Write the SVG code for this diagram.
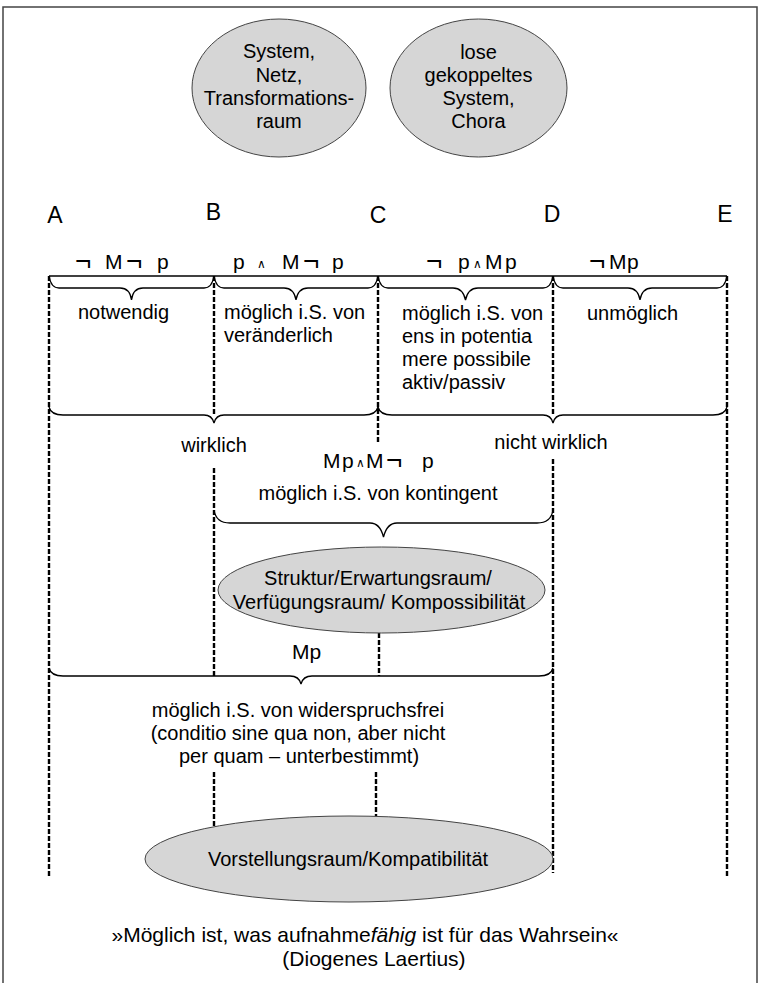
<svg xmlns="http://www.w3.org/2000/svg" width="759" height="983" viewBox="0 0 759 983">
<style>
text{font-family:"Liberation Sans",Arial,sans-serif;font-size:20px;fill:#000}
.lbl{font-size:23px}
.f{font-size:21px}
.neg{font-size:28px}
.and{font-size:12px;font-family:"DejaVu Sans",sans-serif}
.c{text-anchor:middle}
.q{font-size:21px}
.ell{fill:#d6d6d6;stroke:#444;stroke-width:1}
.dash{stroke:#000;stroke-width:2.4;stroke-dasharray:5 2;fill:none}
.brace{stroke:#000;stroke-width:1.3;fill:none}
</style>
<rect width="759" height="983" fill="#fff"/>
<path d="M3,983 V7 H757 V983" fill="none" stroke="#444" stroke-width="1.5"/>

<g id="node-system">
<ellipse class="ell" cx="279" cy="88" rx="87" ry="69"/>
<text class="c" x="279" y="58">System,</text>
<text class="c" x="279" y="82">Netz,</text>
<text class="c" x="279" y="105">Transformations-</text>
<text class="c" x="279" y="128">raum</text>
</g>
<g id="node-chora">
<ellipse class="ell" cx="478.5" cy="88" rx="88.5" ry="69"/>
<text class="c" x="478.5" y="59">lose</text>
<text class="c" x="478.5" y="82">gekoppeltes</text>
<text class="c" x="478.5" y="105">System,</text>
<text class="c" x="478.5" y="128">Chora</text>
</g>

<g id="labels">
<text class="lbl c" x="55" y="223">A</text>
<text class="lbl c" x="213.5" y="220">B</text>
<text class="lbl c" x="378" y="223">C</text>
<text class="lbl c" x="552" y="222">D</text>
<text class="lbl c" x="725" y="222">E</text>
</g>

<g id="connectors">
<line x1="49" y1="276" x2="727" y2="276" stroke="#000" stroke-width="1.3"/>
<line class="dash" x1="49" y1="276" x2="49" y2="877"/>
<line class="dash" x1="214" y1="276" x2="214" y2="416"/>
<line class="dash" x1="214" y1="468" x2="214" y2="676"/>
<line class="dash" x1="214" y1="772" x2="214" y2="826"/>
<line class="dash" x1="378" y1="276" x2="378" y2="442"/>
<line class="dash" x1="379" y1="633" x2="379" y2="676"/>
<line class="dash" x1="376" y1="772" x2="376" y2="816"/>
<line class="dash" x1="553" y1="276" x2="553" y2="416"/>
<line class="dash" x1="553" y1="459" x2="553" y2="873"/>
<line class="dash" x1="727" y1="276" x2="727" y2="877"/>
<!-- row 1 braces -->
<path class="brace" d="M49,276 Q51,288 59,288 L120,288 Q130,288 131.5,300 Q133,288 143,288 L204,288 Q212,288 214,276"/>
<path class="brace" d="M214,276 Q216,288 224,288 L284,288 Q294,288 296,300 Q298,288 308,288 L368,288 Q376,288 378,276"/>
<path class="brace" d="M378,276 Q380,288 388,288 L453,288 Q463,288 465.5,300 Q468,288 478,288 L543,288 Q551,288 553,276"/>
<path class="brace" d="M553,276 Q555,288 563,288 L628,288 Q638,288 640,300 Q642,288 652,288 L717,288 Q725,288 727,276"/>
<!-- row 2 braces -->
<path class="brace" d="M49,407 Q51,415 63,415 L204,415 Q212,415 214,423 Q216,415 224,415 L364,415 Q376,415 378,407"/>
<path class="brace" d="M378,407 Q380,415 392,415 L543,415 Q551,415 553,423 Q555,415 563,415 L713,415 Q725,415 727,407"/>
<!-- kontingent brace -->
<path class="brace" d="M214,510 Q216,523 230,523 L370,523 Q380,523 383.5,537 Q387,523 397,523 L537,523 Q551,523 553,510"/>
<!-- Mp brace -->
<path class="brace" d="M49,668 Q51,676 63,676 L290,676 Q299,676 301,684 Q303,676 312,676 L539,676 Q551,676 553,668"/>
</g>

<g id="formula-AB">
<text class="neg" x="75" y="270">¬</text>
<text class="f" x="105" y="269">M</text>
<text class="neg" x="126" y="270">¬</text>
<text class="f" x="157" y="269">p</text>
</g>
<g id="formula-BC">
<text class="f" x="233" y="269">p</text>
<text class="and" x="257" y="268">∧</text>
<text class="f" x="282" y="269">M</text>
<text class="neg" x="303" y="270">¬</text>
<text class="f" x="332" y="269">p</text>
</g>
<g id="formula-CD">
<text class="neg" x="426" y="270">¬</text>
<text class="f" x="458" y="269">p</text>
<text class="and" x="473" y="268">∧</text>
<text class="f" x="485" y="269">M</text>
<text class="f" x="505" y="269">p</text>
</g>
<g id="formula-DE">
<text class="neg" x="589" y="270">¬</text>
<text class="f" x="609" y="269">M</text>
<text class="f" x="627" y="269">p</text>
</g>

<g id="node-notwendig"><text x="78" y="319">notwendig</text></g>
<g id="node-veraenderlich">
<text x="224" y="319">möglich i.S. von</text>
<text x="224" y="342">veränderlich</text>
</g>
<g id="node-potentia">
<text x="402" y="320">möglich i.S. von</text>
<text x="402" y="343">ens in potentia</text>
<text x="402" y="366">mere possibile</text>
<text x="402" y="389">aktiv/passiv</text>
</g>
<g id="node-unmoeglich"><text x="587" y="320">unmöglich</text></g>

<g id="node-wirklich"><text class="c" x="214" y="452">wirklich</text></g>
<g id="node-nichtwirklich"><text class="c" x="551" y="449">nicht wirklich</text></g>

<g id="formula-kontingent">
<text class="f" x="323" y="468">M</text>
<text class="f" x="342" y="468">p</text>
<text class="and" x="356" y="467">∧</text>
<text class="f" x="366" y="468">M</text>
<text class="neg" x="386" y="469">¬</text>
<text class="f" x="422" y="468">p</text>
</g>
<g id="node-kontingent"><text class="c" x="378" y="500">möglich i.S. von kontingent</text></g>

<g id="node-struktur">
<ellipse class="ell" cx="381.5" cy="590" rx="163.5" ry="43"/>
<text class="c" x="378" y="585">Struktur/Erwartungsraum/</text>
<text class="c" x="379" y="609">Verfügungsraum/ Kompossibilität</text>
</g>

<g id="formula-Mp"><text class="f" x="292" y="659">Mp</text></g>

<g id="node-widerspruchsfrei">
<text class="c" x="298" y="717">möglich i.S. von widerspruchsfrei</text>
<text class="c" x="298" y="740">(conditio sine qua non, aber nicht</text>
<text class="c" x="299" y="763">per quam – unterbestimmt)</text>
</g>

<g id="node-vorstellungsraum">
<ellipse class="ell" cx="349" cy="859" rx="204" ry="43"/>
<text class="c" x="348" y="866">Vorstellungsraum/Kompatibilität</text>
</g>

<g id="quote">
<text class="q c" x="365" y="942">»Möglich ist, was aufnahme<tspan font-style="italic">fähig</tspan> ist für das Wahrsein«</text>
<text class="q c" x="374" y="966">(Diogenes Laertius)</text>
</g>
</svg>
